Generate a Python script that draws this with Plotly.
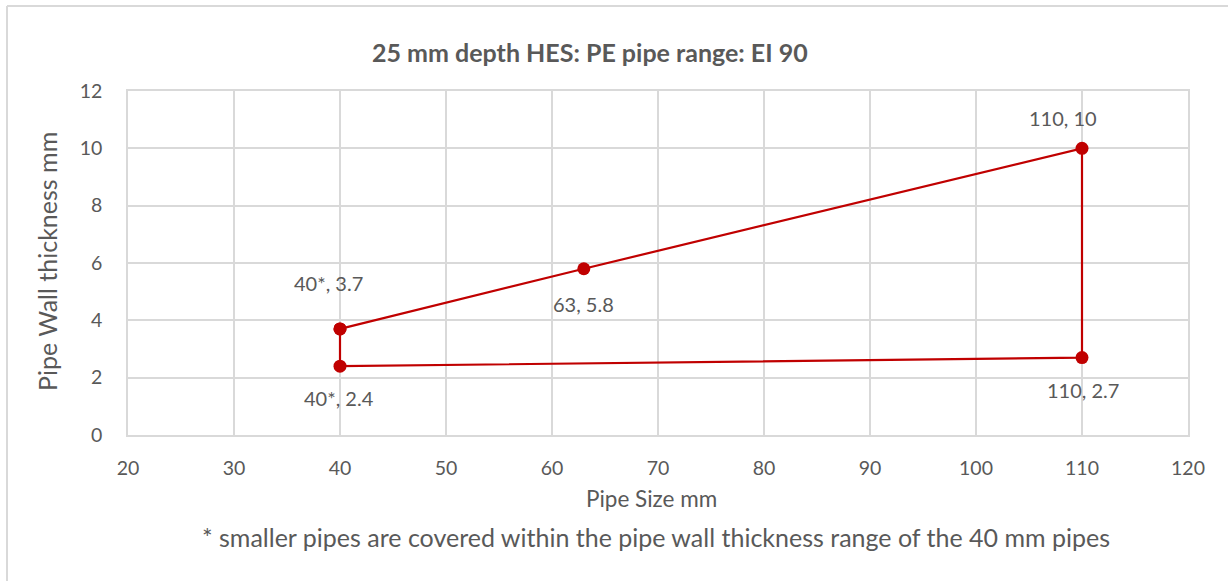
import plotly.graph_objects as go

# Pipe range boundary (closed polygon, last point returns to the start)
pipe_size = [40, 63, 110, 110, 40, 40]
wall_thickness = [3.7, 5.8, 10, 2.7, 2.4, 3.7]
size_labels = ["40*", "63", "110", "110", "40*"]

# label offsets (pixels) for each corner label
label_dx = [-12, 0, -19, 1, -1]
label_dy = [46, -35, 30, -32, -32]

x_ticks = [20, 30, 40, 50, 60, 70, 80, 90, 100, 110, 120]
y_ticks = [0, 2, 4, 6, 8, 10, 12]

RED = "#C00000"
GREY_TXT = "#595959"
GRID = "#D9D9D9"
FONT = "Lato"

W, H = 1228, 581
L, R, T, B = 128, 40, 91, 146

fig = go.Figure()
fig.add_trace(go.Scatter(
    x=pipe_size, y=wall_thickness, mode="lines+markers",
    line=dict(color=RED, width=2.2),
    marker=dict(color=RED, size=13),
    hoverinfo="x+y", showlegend=False,
))

annotations = []
for xv, yv, lab, dx, dy in zip(pipe_size, wall_thickness, size_labels, label_dx, label_dy):
    annotations.append(dict(
        x=xv, y=yv, xref="x", yref="y", text=f"{lab}, {yv:g}",
        showarrow=False, xshift=dx, yshift=dy,
        xanchor="center", yanchor="middle",
        font=dict(family=FONT, size=20, color=GREY_TXT),
    ))

pw = W - L - R
ph = H - T - B
def px(x):
    return (x - L) / pw
def py(y):
    return (H - B - y) / ph

annotations.append(dict(
    x=px(590), y=py(52), xref="paper", yref="paper",
    xanchor="center", yanchor="middle",
    text="<b>25 mm depth HES: PE pipe range: EI 90</b>", showarrow=False,
    font=dict(family=FONT, size=25, color=GREY_TXT),
))
annotations.append(dict(
    x=px(656), y=py(537), xref="paper", yref="paper",
    xanchor="center", yanchor="middle",
    text="* smaller pipes are covered within the pipe wall thickness range of the 40 mm pipes",
    showarrow=False, font=dict(family=FONT, size=25, color=GREY_TXT),
))
annotations.append(dict(
    x=px(651), y=py(499), xref="paper", yref="paper",
    xanchor="center", yanchor="middle",
    text="Pipe Size mm", showarrow=False,
    font=dict(family=FONT, size=22.5, color=GREY_TXT),
))
annotations.append(dict(
    x=px(47), y=py(262), xref="paper", yref="paper",
    xanchor="center", yanchor="middle", textangle=-90,
    text="Pipe Wall thickness mm", showarrow=False,
    font=dict(family=FONT, size=25, color=GREY_TXT),
))

fig.update_layout(
    width=W, height=H,
    margin=dict(l=L, r=R, t=T, b=B),
    paper_bgcolor="white", plot_bgcolor="white",
    font=dict(family=FONT, color=GREY_TXT),
    annotations=annotations,
    shapes=[
        dict(type="line", xref="paper", yref="paper", x0=px(7), x1=px(W + 5),
             y0=py(6), y1=py(6), line=dict(color=GRID, width=2)),
        dict(type="line", xref="paper", yref="paper", x0=px(7), x1=px(7),
             y0=py(6), y1=py(H + 5), line=dict(color=GRID, width=2)),
    ],
)

fig.update_xaxes(
    range=[20, 120], tickvals=x_ticks, showgrid=True, gridcolor=GRID, gridwidth=1.5,
    showline=True, linecolor=GRID, linewidth=1.5, mirror=True, zeroline=False,
    tickfont=dict(family=FONT, size=19.5, color=GREY_TXT), ticks="", ticklabelstandoff=15,
)
fig.update_yaxes(
    range=[0, 12], tickvals=y_ticks, showgrid=True, gridcolor=GRID, gridwidth=1.5,
    showline=True, linecolor=GRID, linewidth=1.5, mirror=True, zeroline=False,
    tickfont=dict(family=FONT, size=19.5, color=GREY_TXT), ticks="", ticklabelstandoff=20,
)

fig.write_html("out.html")
